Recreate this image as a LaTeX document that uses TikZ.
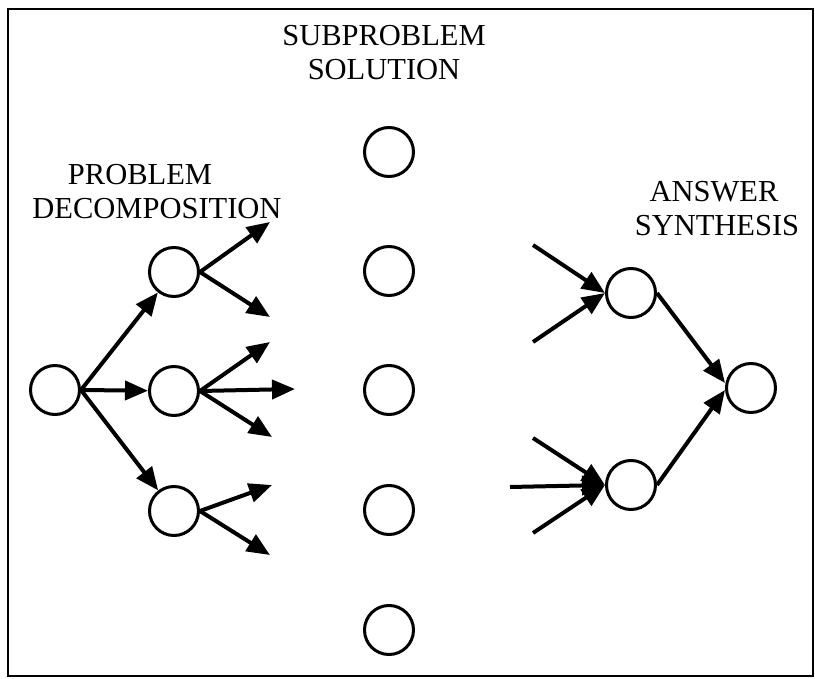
\documentclass[tikz,border=0pt]{standalone}
\usepackage{fontspec}
\setmainfont{Liberation Serif}
\usetikzlibrary{arrows.meta}
\begin{document}
\begin{tikzpicture}[x=1pt,y=-1pt,
  nd/.style={circle,draw,line width=3pt,minimum size=49pt,inner sep=0pt},
  arr/.style={line width=4pt,-{Triangle[length=23pt,width=19pt]}},
  lbl/.style={anchor=base,inner sep=0pt,font=\fontsize{30.5}{35}\selectfont}]
\useasboundingbox (0,0) rectangle (815,679);
\draw[line width=2.5pt] (8,9) rectangle (813,676);
% labels
\node[lbl] (lsub1) at (384,46) {SUBPROBLEM};
\node[lbl] (lsub2) at (384,80) {SOLUTION};
\node[lbl] (ldec1) at (140,185) {PROBLEM};
\node[lbl] (ldec2) at (157,219) {DECOMPOSITION};
\node[lbl] (lsyn1) at (714,202) {ANSWER};
\node[lbl] (lsyn2) at (717,236) {SYNTHESIS};
% decomposition
\node[nd] (R) at (55,390) {};
\node[nd] (A1) at (174,272) {};
\node[nd] (A2) at (174,391) {};
\node[nd] (A3) at (174,511) {};
\draw[arr] (R.east) -- (A1);
\draw[arr] (R.east) -- (A2);
\draw[arr] (R.east) -- (A3);
\coordinate (t11) at (270,222);
\coordinate (t12) at (270,317);
\coordinate (t21) at (270,342);
\coordinate (t22) at (295,389);
\coordinate (t23) at (272,437);
\coordinate (t31) at (272,485);
\coordinate (t32) at (270,555);
\draw[arr] (A1.east) -- (t11);
\draw[arr] (A1.east) -- (t12);
\draw[arr] (A2.east) -- (t21);
\draw[arr] (A2.east) -- (t22);
\draw[arr] (A2.east) -- (t23);
\draw[arr] (A3.east) -- (t31);
\draw[arr] (A3.east) -- (t32);
% subproblem solutions
\node[nd] (S1) at (389,152) {};
\node[nd] (S2) at (389,271) {};
\node[nd] (S3) at (389,390) {};
\node[nd] (S4) at (389,510) {};
\node[nd] (S5) at (389,630) {};
% synthesis
\node[nd] (B1) at (631,293) {};
\node[nd] (B2) at (631,485) {};
\node[nd] (F) at (751,388) {};
\coordinate (s11) at (533,245);
\coordinate (s12) at (533,342);
\coordinate (s21) at (533,438);
\coordinate (s22) at (510,487);
\coordinate (s23) at (533,533);
\draw[arr] (s11) -- (B1.west);
\draw[arr] (s12) -- (B1.west);
\draw[arr] (s21) -- (B2.west);
\draw[arr] (s22) -- (B2.west);
\draw[arr] (s23) -- (B2.west);
\draw[arr] (B1.east) -- ([yshift=5pt]F.west);
\draw[arr] (B2.east) -- ([yshift=-2pt]F.west);
\end{tikzpicture}
\end{document}
